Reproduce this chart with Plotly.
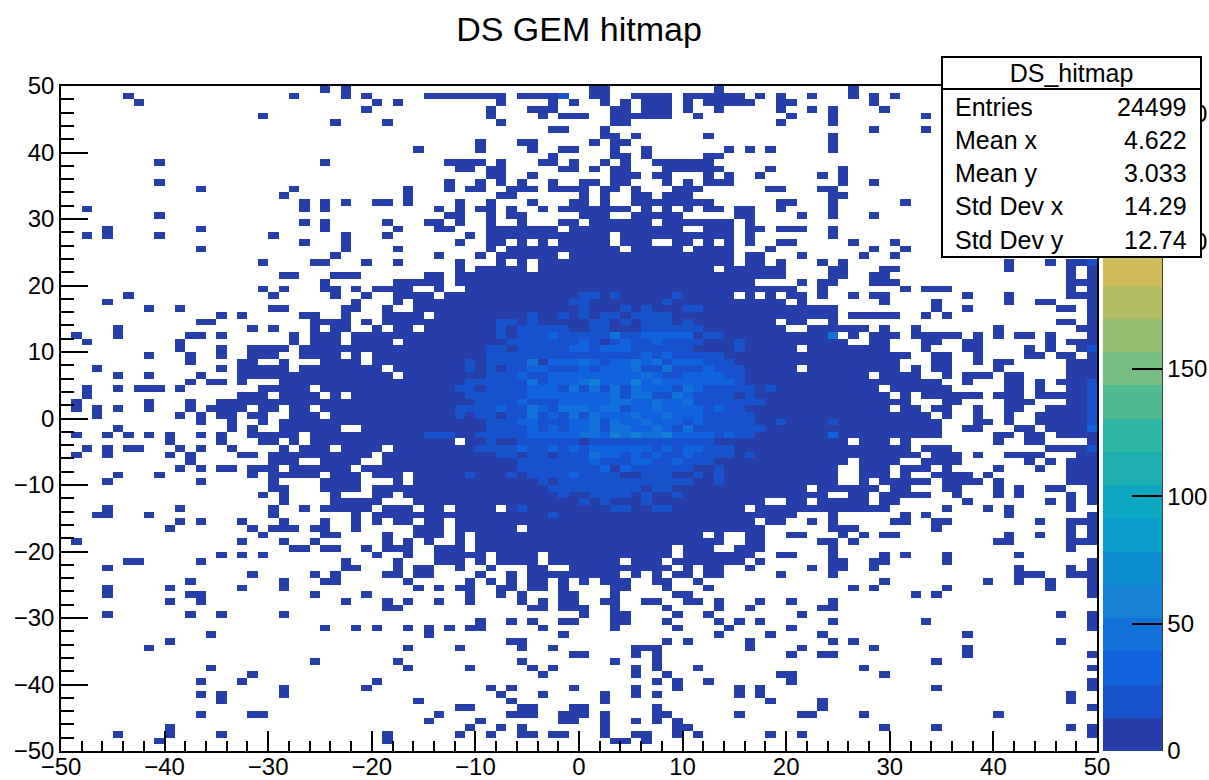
import plotly.graph_objects as go

# Column ranges of filled cells, one string per row, from y=+50 (top) to y=-50 (bottom).
FILLED = [
"25 27 51-52 63 76",
"6 22 27 29 35-42 44-48 51-52 55-58 60-65 67 69 72 76 78 80",
"7 30 32 42 47 49 52 54 56-58 60 62-66 69-70 78",
"29 41 45-47 53-54 56-58 60 63 69 72 74 79",
"19 41 46 48-50 53-58 61 70 74 83",
"26 31 42 53-54 69 74",
"47-48 52 78 83",
"52-53 55 62 74",
"40 44-45 51 53-54 74",
"34 40 45 48-49 53 56 64 66 68 74",
"47 53-54 56 62-63",
"9 25 37-40 42 46-47 49 52 54 57-62",
"38-39 41-42 48-49 51 53-54 58-63 68 75",
"41-42 45 53-55 57-58 62 64 67 73 75",
"9 37 40 42 44 47 50-51 53-54 58 60 62-64 75 78",
"13 22 33 37 39-40 43-45 47-50 52-53 55 59-61 68-69 73-74",
"21 33 42-43 50 52 55-56 58-60 74-75",
"23 25 27 30-31 33 38 41 45 49-50 52 55-61 62 69-70 74 81",
"2 23 25 36 38 40-41 43 46 48-54 56 58 60 62-63 65-66 69 74",
"9 37-38 41 43-44 50-52 55-59 65-66 71 74 78",
"23 25 31 35-36 38 41 44 48-49 51-56 58-64 66",
"4 13 25 32 36-37 41-47 49-59 62-64 66-67 69-71 74",
"2 4 9 20 27 31 39 41-52 54-64 66 74",
"23 27 38 41-42 44 46 48-52 54-56 59-60 62 64 66 69-70 76 80",
"13 27 32 41 43-53 55-59 61-64 68 78 81",
"26 36 40 42-47 49-64 66-67 71 77 80",
"19 24-25 29 32 38 42 44 46-64 66-67 69 73 75 91 95 97-99",
"38 40-44 46-62 64-69 74-75 79-80 91 97 99",
"21-22 26-28 35-36 38-69 74-75 78-79 97 99",
"25 32-36 38-66 71 73-74 78-80 97-99",
"19 21 25-26 28 30-33 36 39-70 73 81 83-85 97 99",
"6 20 26 29 32-35 37-64 66 68 70-71 73 76 78-79 87 91 97-99",
"4 28 32 34-69 71 79 84 91 94-95 99",
"8 11 20-21 27-28 31 34-74 84 87 96-97 99",
"15 17 23-24 27 31-34 36-74 76-80 83 85 99",
"13-14 24-27 29 31-68 70-71 74 96-97 99",
"5 18 20 24 26-27 30 32-33 35-69 72-77 79 82 90 98-99",
"1 5 12-13 15 22 24-26 28-74 76 78-80 82-86 88 90 92-93 95 99",
"2 11 22 24-26 28-31 33-75 78-79 83-84 87-88 95 97-99",
"11 15 18-21 23-70 72-79 83 87-88 93 95 98-99",
"8 12 15 18-20 23-26 28 30-81 84-85 88 93-94 96-97 99",
"12 17-18 21 25-28 30-80 84-85 88 90-91 97-99",
"3 15 17-21 23-30 32-70 72-80 82 84-85 90 97-99",
"5 8 13 17-31 33-77 79-82 85 87-89 91-92 97-99",
"12 14-15 17 21-84 87 91-92 94 96-99",
"2 5 7-9 11 19-23 25-78 80-85 91-92 94 97-99",
"2 17-19 21-24 26 28-79 81 83-88 90-92 94-99",
"1 8 12 15-81 85-86 91-93 97-99",
"1 3 5 8 12 14-17 19-20 22-23 25-79 81-82 84-85 88 91-92 95-99",
"3 11 13 15-16 18-19 22-24 26-83 85 88 91 94-99",
"13 16 19 21-84 88-89 91 94-99",
"5 16 18 21-26 29-84 87-88 92-93 95-99",
"1 4 6 8 10 13 15 18-22 24-84 90-91 93-94 96-99",
"10 15 19-20 22 24-37 39-75 77-79 81 90 93-94 99",
"2 4 6-7 11 13 16 21 23-25 27-30 32-81 83-85 95-99",
"1 4 10 12 17-18 20-29 31-82 84-86 88 91-94 98-99",
"12 20-22 25-28 31-75 77-80 83-86 93 95 97-99",
"11 13 15-16 18-20 22-27 29-74 77-79 81-83 85 90 94 97-99",
"5 9 18 20-24 26-28 30-32 34-74 77-79 81 84-87 89 97-99",
"4 13 20 25-28 32 34-74 77 79-83 85-88 90 97-99",
"20-21 25-28 30-71 73-78 80-81 85-86 90 92 95-96 99",
"19 21 26 30-31 33-73 76-77 79-83 86 90 92 97 99",
"21 26-30 34-67 70-71 73-77 79-80 87 95 97 99",
"4 11 20 23 25-29 31-33 35-36 38-41 43-65 67-79 85 89 91 97",
"3-4 8 20 28 30-70 74 81 83 91 99",
"11 13 17 21 25 28 30 32-33 35-36 38-66 68-69 72 74 80-81 84-85 94 97-99",
"10 18 20-22 24-25 28 34-36 38-43 45-67 74-76 84 97 99",
"19 25-26 31 34-36 38 40-61 63 66-67 70-71 75 77 79-80 91 94 97 99",
"1 17 21 24 31 33 35 38 40-63 66-67 73-74 76 90-91 97-99",
"22-23 25-26 29 31-33 36-38 40-58 60-62 65-67 74 97",
"15 17 19 30 33 36-40 42-45 47-58 60-61 62-66 69-70 74 79 81 85 92",
"6-7 13 27 32 36-38 40 42-45 47-53 55-57 59-65 67 74-75 78-79 85 99",
"4 27-28 32 34-35 38 41 45-46 49-58 60 62-63 66 72 74-75 78 92 97 99",
"18 24 26 31-32 34-35 40 43 45-53 55 57 59-60 62-63 69 74 92-94 97-99",
"12 21 25-26 33 39 41 43 45-46 48 50 52-54 57-58 61 79 89 92 95 99",
"4 10 17 21 34 36 38-39 42-43 45-46 48 53-54 58 62 76 78 85 95 99",
"4 12-13 24 29 39 42 44 48-49 53 59-60 82 84 99",
"10 13 27 31 33 36 39 44 46 48-49 52-53 56-57 60-61 63 67 70 74",
"31-32 45-46 48-50 53 58 63 66 73-74",
"4 12 15 21 50 53-54 59 62 71 96 99",
"40 43 45 48-49 53-54 58 63 65 67 74 83 99",
"25 28 30 33 35 37 39-40 46 53 59 64 70 99",
"14 35 48 63 68 73 87",
"10 43-44 58 60 66 74 76 96",
"8 33 38 44 47 55-57 66 71 78 87",
"49-50 55 57 70 73-74 87 99",
"24 32 44 53 57 84",
"14 33 39 45 47 55 57 61 77 99",
"18 46 55 58 69-70 79",
"13 17 30 57 59 62 70 99",
"21 29 41 43 49 55 59 65 67 84 99",
"13 15 21 42 46 52 55 57 65 67 97",
"15 34 43 52 68 73 97",
"38-39 44-45 49-50 57 73 99",
"13 18-19 36 43-45 48-50 52 57-58 65 71-72 77 90",
"35 40 48-49 52 55 57 59",
"10 39 42 44 52 59-60 79 84 97 99",
"5 10 15 31 38 41 44-45 47-48 52 55-56 59 61 68 71 99",
"9 31 53-54 56",
"",
]

# Cells in the second colour band (counts of roughly 13-26), by row index from the top.
BAND_1 = {
1: "48", 31: "50-51 53 59", 32: "49-50 58", 33: "50 54 56 60-61",
34: "45 48 50 52-53 55-58", 35: "42-43 45 51-52 54 56-58 60", 36: "42 44-48 51-52 56-61",
37: "42 44-55 56-60 62-63", 38: "43-51 53-58 59-61 65", 39: "41-42 44-60 65 99", 40: "41-63",
41: "39 41-45 47-64", 42: "39 41 43-65", 43: "41-65", 44: "39-65 99", 45: "38-39 41-66 68 99",
46: "39-64 66 99", 47: "40-67 99", 48: "38-65 99", 49: "38 40-41 43-66 99", 50: "41-66 69 74 99", 51: "41-67",
52: "35-37 40-66", 53: "41 44-49 51-62", 54: "40-64 99", 55: "42-43 45-46 48-64 66",
56: "44-62", 57: "44-52 54-60 63", 58: "39 43 45-53 56-58 61 63", 59: "46 48-60 63",
60: "47-55 57-58", 61: "48 51-54 56 59", 62: "50 52 56", 63: "44 53-54 57-58", 64: "47", 26: "99",
}

# Cells in the third colour band (roughly 26-39).
BAND_2 = {
37: "47 56-60", 38: "50 54 57", 39: "49-50 52-54", 40: "56 58",
41: "47-49 51 53-54 56 59-61", 42: "45-46 50 52-54 62", 43: "44 47-55 57 60-63",
44: "47-49 52-54 56 58-64", 45: "45-47 56-58 61", 46: "45-52 60", 47: "44 48-52 55-56 58-59",
48: "42 46 51 55-56 58-61 63", 49: "47 52-54 56-57 59-61", 50: "44-45 49-50 54-55 57-59 61",
51: "45 47 49-50 55-56 58 99", 52: "45-49 52 59-62 64 74", 54: "44 47 49 51-56 58 60-61",
55: "52-53 55 57 60", 56: "51 55-56 59", 57: "52 54", 58: "49",
}

# Cells in the fourth and fifth colour bands (roughly 39-65).
BAND_3 = {
37: "53 74", 41: "45 50 55 57", 42: "55 58", 43: "56", 44: "45 50 57",
45: "49 51 53 55 60", 46: "53 55-56 59", 47: "53-54 57 60", 48: "45 48-50 52-53 57",
49: "45 49 51 55 58", 50: "51 53 56", 51: "51 53-54 57 60", 52: "50-51 54 56-57", 55: "51",
}
BAND_4 = {44: "51 55", 52: "53 55 58"}

# Representative counts of the colour bands, lowest first.
BAND_COUNTS = [7, 20, 33, 46, 59]
Z_MAX = 261
N_BANDS = 20
BIN_CENTRES = [-49.5 + i for i in range(100)]
BIRD_R = [0.2082, 0.0592, 0.0780, 0.0232, 0.1802, 0.5301, 0.8186, 0.9956, 0.9764]
BIRD_G = [0.1664, 0.3599, 0.5041, 0.6419, 0.7178, 0.7492, 0.7328, 0.7862, 0.9832]
BIRD_B = [0.5293, 0.8684, 0.8385, 0.7914, 0.6425, 0.4662, 0.3499, 0.1968, 0.0539]
STATS = [("Entries", "24499"), ("Mean x", "4.622"), ("Mean y", "3.033"),
         ("Std Dev x", "14.29"), ("Std Dev y", "12.74")]


def columns(spec):
    out = []
    for part in spec.split():
        if "-" in part:
            a, b = part.split("-")
            out.extend(range(int(a), int(b) + 1))
        else:
            out.append(int(part))
    return out


grid = [[None] * 100 for _ in range(100)]
for r, spec in enumerate(FILLED):
    for c in columns(spec):
        grid[r][c] = BAND_COUNTS[0]
for level, table in ((1, BAND_1), (2, BAND_2), (3, BAND_3), (4, BAND_4)):
    for r, spec in table.items():
        for c in columns(spec):
            grid[r][c] = BAND_COUNTS[level]
grid = grid[::-1]


def bird(t):
    p = t * 8
    i = min(int(p), 7)
    f = p - i
    mix = lambda s: round(255 * (s[i] + (s[i + 1] - s[i]) * f))
    return f"rgb({mix(BIRD_R)},{mix(BIRD_G)},{mix(BIRD_B)})"


scale = []
for i in range(N_BANDS):
    col = bird((i + 0.99) / N_BANDS)
    scale += [[i / N_BANDS, col], [(i + 1) / N_BANDS, col]]

W, H = 1209, 780
L, R, T, B = 61, 1097, 86, 751
FONT = "Liberation Sans"
px = lambda x: (x - L) / (R - L)
py = lambda y: (B - y) / (B - T)

fig = go.Figure(go.Heatmap(
    x=BIN_CENTRES, y=BIN_CENTRES, z=grid, zmin=0, zmax=Z_MAX,
    colorscale=scale, hoverongaps=False,
    colorbar=dict(
        x=px(1103), xanchor="left", y=0, yanchor="bottom", len=1, lenmode="fraction",
        thickness=59, thicknessmode="pixels", xpad=0, ypad=0, outlinewidth=0,
        tick0=0, dtick=50, ticks="inside", ticklen=30, tickwidth=1.5, tickcolor="black",
        tickfont=dict(family=FONT, size=24, color="black"),
    ),
))

axis = dict(range=[-50, 50], dtick=10, tick0=-50, ticks="inside", tickwidth=1.5, tickcolor="black",
            showline=True, linecolor="black", linewidth=1.5, mirror=True, showgrid=False, zeroline=False,
            tickfont=dict(family=FONT, size=24, color="black"))
fig.update_xaxes(**axis, ticklen=20, ticklabelstandoff=-7,
                 minor=dict(dtick=2, tick0=-50, ticks="inside", ticklen=10, tickwidth=1.5, tickcolor="black", showgrid=False))
fig.update_yaxes(**axis, ticklen=27,
                 minor=dict(dtick=2, tick0=-50, ticks="inside", ticklen=13.5, tickwidth=1.5, tickcolor="black", showgrid=False))

annotations = [
    dict(x=px(941), y=py(56), xref="paper", yref="paper", xanchor="left", yanchor="top", showarrow=False,
         text="DS_hitmap", width=257, height=30, borderwidth=2, borderpad=0, bordercolor="black", bgcolor="white", align="center",
         font=dict(family=FONT, size=25, color="black")),
    dict(x=px(941), y=py(88), xref="paper", yref="paper", xanchor="left", yanchor="top", showarrow=False,
         text=" ", width=257, height=166, borderwidth=2, borderpad=0, bordercolor="black", bgcolor="white",
         font=dict(family=FONT, size=25, color="black")),
]
for (label, value), yc in zip(STATS, [107, 140, 173, 206, 240]):
    annotations.append(dict(x=px(953), y=py(yc), xref="paper", yref="paper", xanchor="left", yanchor="middle",
                            showarrow=False, text=label, font=dict(family=FONT, size=25, color="black")))
    annotations.append(dict(x=px(1189), y=py(yc), xref="paper", yref="paper", xanchor="right", yanchor="middle",
                            showarrow=False, text=value, font=dict(family=FONT, size=25, color="black")))

fig.update_layout(
    width=W, height=H, margin=dict(l=L, r=W - R, t=T, b=H - B, autoexpand=False),
    paper_bgcolor="white", plot_bgcolor="white",
    font=dict(family=FONT, color="black"),
    title=dict(text="DS GEM hitmap", x=579 / W, xanchor="center", y=1 - 29 / H, yanchor="middle",
               font=dict(family=FONT, size=34, color="black")),
    annotations=annotations,
    shapes=[dict(type="line", xref="paper", yref="paper", x0=px(1162), x1=px(1162), y0=0, y1=1,
                 line=dict(color="black", width=1.5), layer="above")],
)
fig.write_html("out.html", config={"displayModeBar": False},
               post_script="document.body.style.margin='0';document.documentElement.style.overflow='hidden';")
